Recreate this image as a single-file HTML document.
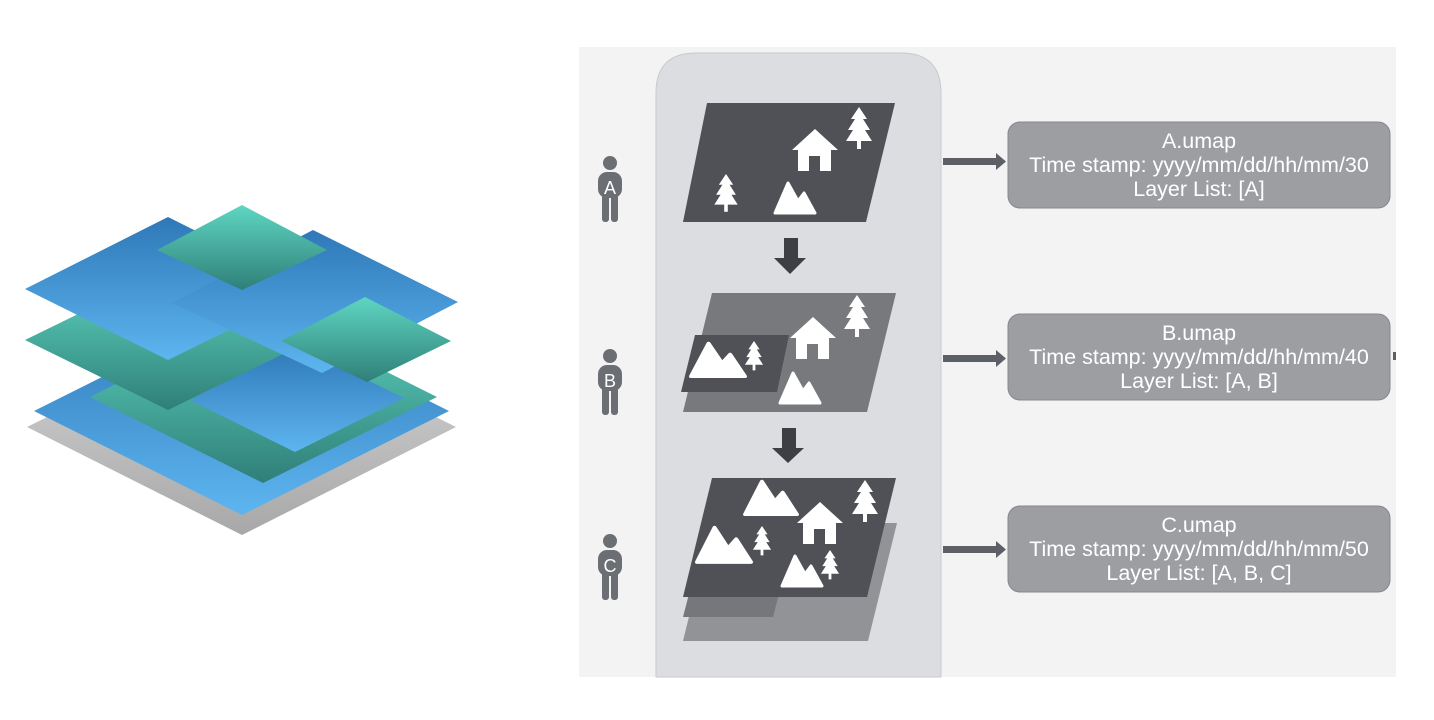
<!DOCTYPE html>
<html><head><meta charset="utf-8"><style>
html,body{margin:0;padding:0;background:#fff;}
svg{display:block}
</style></head><body>
<svg width="1434" height="720" viewBox="0 0 1434 720" xmlns="http://www.w3.org/2000/svg">
<defs>
<linearGradient id="bl" x1="0" y1="0" x2="0" y2="1"><stop offset="0" stop-color="#2f78b8"/><stop offset="1" stop-color="#5db5ef"/></linearGradient>
<linearGradient id="gr" x1="0" y1="0" x2="0" y2="1"><stop offset="0" stop-color="#5fd6c2"/><stop offset="1" stop-color="#2f7f78"/></linearGradient>
<linearGradient id="gy" x1="0" y1="0" x2="0" y2="1"><stop offset="0" stop-color="#d8d8d8"/><stop offset="1" stop-color="#a8a8a8"/></linearGradient>
<g id="tree"><polygon fill="#fff" points="0,-20 -8,-8 -4,-8 -11,3 -6,3 -13,14 -2,14 -2,22 2,22 2,14 13,14 6,3 11,3 4,-8 8,-8"/></g>
<g id="house"><polygon fill="#fff" points="0,-21 -23,0 -17,0 -17,21 -6,21 -6,6 5,6 5,21 16,21 16,0 23,0"/></g>
<g id="mtn"><polygon fill="#fff" points="-20,14 -7,-16 3,2 9,-6 20,14" stroke="#fff" stroke-width="3" stroke-linejoin="round"/></g>
</defs>

<!-- left layers -->
<polygon points="27,427 242,320 456,427 242,535" fill="url(#gy)"/>
<polygon points="34,411 242,307 449,411 242,515" fill="url(#bl)"/>
<polygon points="90,397 263,310 437,397 263,483" fill="url(#gr)"/>
<polygon points="190,400 295,345 404,398 295,452" fill="url(#bl)"/>
<polygon points="25,340 168,270 312,340 168,410" fill="url(#gr)"/>
<polygon points="25,289 168,217 312,289 168,360" fill="url(#bl)"/>
<polygon points="172,303 313,230 458,302 322,373" fill="url(#bl)"/>
<polygon points="157,250 242,205 327,250 242,290" fill="url(#gr)"/>
<polygon points="281,341 365,297 451,341 367,382" fill="url(#gr)"/>

<!-- right panel -->
<rect x="579" y="47" width="817" height="630" fill="#f3f3f3"/>
<path d="M656,677 L656,93 Q656,53 696,53 L901,53 Q941,53 941,93 L941,677 Z" fill="#dcdde0" stroke="#c9cacf" stroke-width="1"/>

<!-- people -->
<g fill="#6b6e73">
<circle cx="610" cy="163" r="7"/><rect x="598" y="172" width="24" height="26" rx="9"/><rect x="602" y="190" width="7" height="32" rx="3"/><rect x="611" y="190" width="7" height="32" rx="3"/>
<circle cx="610" cy="356" r="7"/><rect x="598" y="365" width="24" height="26" rx="9"/><rect x="602" y="383" width="7" height="32" rx="3"/><rect x="611" y="383" width="7" height="32" rx="3"/>
<circle cx="610" cy="541" r="7"/><rect x="598" y="550" width="24" height="26" rx="9"/><rect x="602" y="568" width="7" height="32" rx="3"/><rect x="611" y="568" width="7" height="32" rx="3"/>
</g>
<g fill="#fff" font-family="Liberation Sans, sans-serif" font-size="18" text-anchor="middle">
<text x="610" y="194">A</text><text x="610" y="387">B</text><text x="610" y="572">C</text>
</g>

<!-- map A -->
<polygon points="707,103 895,103 866,222 683,222" fill="#4f5157"/>
<use href="#house" transform="translate(815,150)"/>
<use href="#tree" transform="translate(859,127)"/>
<use href="#tree" transform="translate(726,192) scale(0.9)"/>
<use href="#mtn" transform="translate(795,199)"/>

<!-- arrow down -->
<polygon points="784,238 798,238 798,258 806,258 790,274 774,258 784,258" fill="#3d3f44"/>
<polygon points="782,428 796,428 796,448 804,448 788,463 772,448 782,448" fill="#3d3f44"/>

<!-- map B -->
<polygon points="712,293 896,293 867,412 683,412" fill="#77797d"/>
<polygon points="695,335 789,335 777,392 681,392" fill="#4f5157"/>
<use href="#tree" transform="translate(857,315)"/>
<use href="#house" transform="translate(813,338)"/>
<use href="#mtn" transform="translate(718,361) scale(1.35,1.1)"/>
<use href="#tree" transform="translate(754,355) scale(0.7)"/>
<use href="#mtn" transform="translate(800,389)"/>

<!-- map C -->
<polygon points="712,523 897,523 868,641 683,641" fill="#929397"/>
<polygon points="690,590 780,590 773,617 683,617" fill="#75777b"/>
<polygon points="712,478 896,478 867,597 683,597" fill="#4f5157"/>
<use href="#mtn" transform="translate(771,499) scale(1.3,1.1)"/>
<use href="#tree" transform="translate(865,500)"/>
<use href="#house" transform="translate(820,523)"/>
<use href="#mtn" transform="translate(724,546) scale(1.35,1.15)"/>
<use href="#tree" transform="translate(762,540) scale(0.7)"/>
<use href="#mtn" transform="translate(802,572)"/>
<use href="#tree" transform="translate(830,564) scale(0.7)"/>

<!-- right arrows -->
<g fill="#5c5f66">
<rect x="943" y="158" width="55" height="7"/><polygon points="996,153 1006,161.5 996,170"/>
<rect x="943" y="355" width="55" height="7"/><polygon points="996,350 1006,358.5 996,367"/>
<rect x="943" y="546" width="55" height="7"/><polygon points="996,541 1006,549.5 996,558"/>
<rect x="1393" y="352" width="3" height="8"/>
</g>

<!-- boxes -->
<g fill="#9c9ea1" stroke="#86888c" stroke-width="1">
<rect x="1008" y="122" width="382" height="86" rx="12"/>
<rect x="1008" y="314" width="382" height="86" rx="12"/>
<rect x="1008" y="506" width="382" height="86" rx="12"/>
</g>
<g fill="#fff" font-family="Liberation Sans, sans-serif" font-size="21.5" text-anchor="middle">
<text x="1199" y="148">A.umap</text>
<text x="1199" y="172">Time stamp: yyyy/mm/dd/hh/mm/30</text>
<text x="1199" y="196">Layer List: [A]</text>
<text x="1199" y="340">B.umap</text>
<text x="1199" y="364">Time stamp: yyyy/mm/dd/hh/mm/40</text>
<text x="1199" y="388">Layer List: [A, B]</text>
<text x="1199" y="532">C.umap</text>
<text x="1199" y="556">Time stamp: yyyy/mm/dd/hh/mm/50</text>
<text x="1199" y="580">Layer List: [A, B, C]</text>
</g>
</svg>
</body></html>
